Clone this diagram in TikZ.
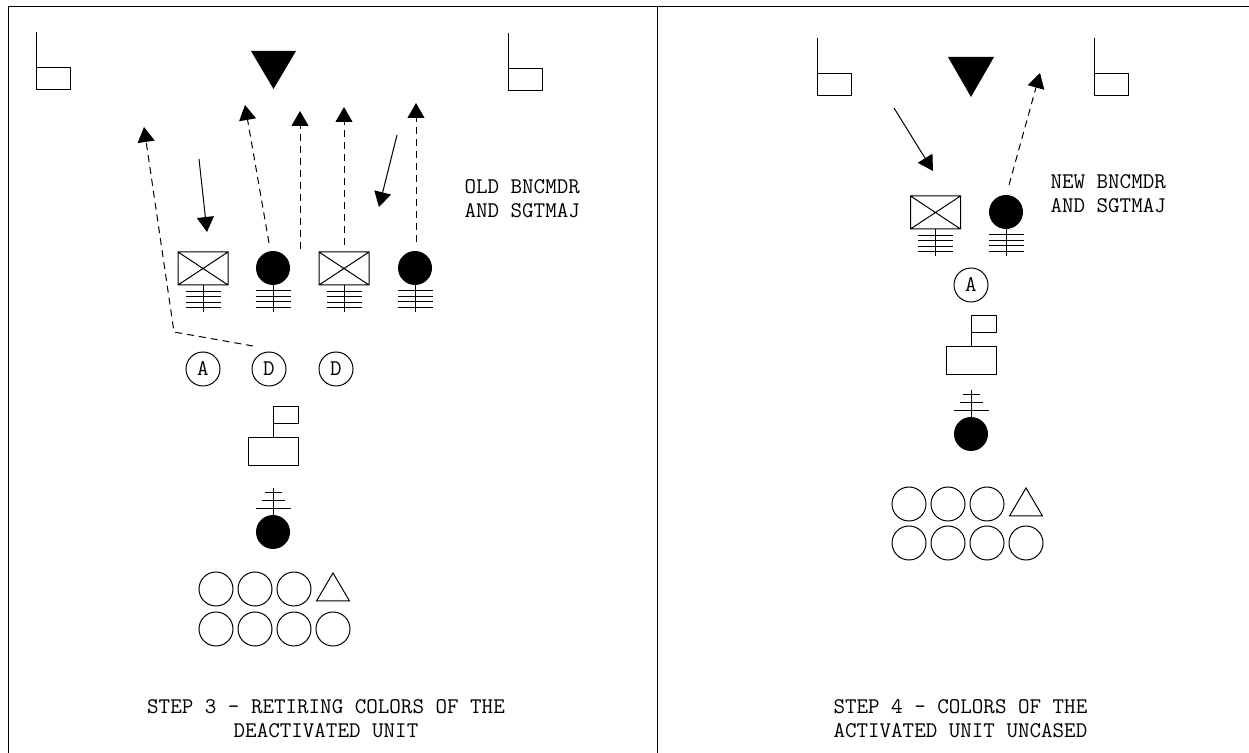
\documentclass[tikz,border=0pt]{standalone}
\usetikzlibrary{arrows.meta}
\newcommand{\txtfont}{\ttfamily\fontsize{11.2}{12}\selectfont}
\tikzset{>={Triangle[length=7.5pt,width=8.5pt]}}
\tikzset{
  guidon/.pic={
    \draw (0,0) -- (0,58) -- (34,58) -- (34,36) -- (0,36);
  },
  staff/.pic={
    \draw (0,17) -- (0,44);
    \foreach \yy in {23,28.5,34,39.5}
      \draw (-17.5,\yy) -- (17.5,\yy);
  },
  cased/.pic={
    \draw (-25,-16.5) rectangle (25,16.5)
          (-25,-16.5) -- (25,16.5) (-25,16.5) -- (25,-16.5);
    \pic {staff};
  },
  uncased/.pic={
    \fill (0,0) circle (17);
    \pic {staff};
  },
  colorstand/.pic={
    \draw (-25,0) rectangle (25,28);
    \draw (0,0) -- (0,-14) (0,-14) rectangle (25,-31);
  },
  commander/.pic={
    \fill (0,0) circle (17);
    \draw (0,-17) -- (0,-44);
    \draw (-8.5,-39) -- (8.5,-39) (-11.5,-31) -- (11.5,-31) (-17.5,-23) -- (17.5,-23);
  },
  troops/.pic={
    \tikzset{/troops/.cd,#1}
    \foreach \xx in {0,39,78}
      \draw (\xx,0) circle (17);
    \draw (117,-16) -- (133.5,12) -- (100.5,12) -- cycle;
    \foreach \xx in {0,39,78,117}
      \draw (\xx,\rowgap) circle (17);
  },
  /troops/.search also={/tikz},
  /troops/.cd,
  gap/.store in=\rowgap, gap=40,
}

\begin{document}
\begin{tikzpicture}[x=0.5pt,y=-0.5pt,line width=0.5pt,
  trail/.style={dash pattern=on 3.5pt off 2.5pt},
  sign/.style={circle,draw,minimum size=17pt,inner sep=0pt,font=\txtfont},
  note/.style={inner sep=0pt,font=\txtfont,align=left}]
  \useasboundingbox (0,0) rectangle (1249,753);
  % frame
  \draw (8,753) -- (8,7) -- (1249,7);
  \draw (657,7) -- (657,753);

  % step 3
  \pic at (36,32) {guidon};
  \pic at (508,33) {guidon};
  \fill (251,51) -- (296,51) -- (273.5,89) -- cycle;
  \pic at (203,268.5) {cased};
  \pic at (273,268) {uncased};
  \pic at (344,268.5) {cased};
  \pic at (415,268) {uncased};
  \node[sign] (a1) at (203,369) {A};
  \node[sign] (d1) at (269,369) {D};
  \node[sign] (d2) at (336,369) {D};
  \pic at (273,438) {colorstand};
  \pic at (273,532) {commander};
  \pic at (216,589) {troops};
  \node[note,anchor=base west] (old) at (464,218) {OLD BNCMDR\\AND SGTMAJ};
  \node[note,anchor=base,align=center] (cap3) at (326,738)
    {STEP 3 - RETIRING COLORS OF THE\\DEACTIVATED UNIT};

  \coordinate (r1) at (253,346); \coordinate (r2) at (174,332);
  \coordinate (r3) at (144,127);
  \draw[trail,->] (r1) -- (r2) -- (r3);
  \coordinate (m1) at (199,159); \coordinate (m2) at (207,232);
  \draw[->] (m1) -- (m2);
  \coordinate (u1) at (269,243); \coordinate (u2) at (245,105);
  \draw[trail,->] (u1) -- (u2);
  \coordinate (u3) at (300,249); \coordinate (u4) at (300,111);
  \draw[trail,->] (u3) -- (u4);
  \coordinate (u5) at (344,245); \coordinate (u6) at (344,107);
  \draw[trail,->] (u5) -- (u6);
  \coordinate (m3) at (397,135); \coordinate (m4) at (379,207);
  \draw[->] (m3) -- (m4);
  \coordinate (u7) at (416,242); \coordinate (u8) at (416,103);
  \draw[trail,->] (u7) -- (u8);

  % step 4
  \pic at (817,38) {guidon};
  \pic at (1094,38) {guidon};
  \fill (948,57) -- (994,57) -- (971,97) -- cycle;
  \pic at (935.5,212.5) {cased};
  \pic at (1006,212) {uncased};
  \node[sign] (a2) at (971,285) {A};
  \pic at (971,347) {colorstand};
  \pic at (971,434) {commander};
  \pic at (909,504) {troops={gap=39}};
  \node[note,anchor=base west] (new) at (1050,213) {NEW BNCMDR\\AND SGTMAJ};
  \node[note,anchor=base west] (cap4) at (833,738)
    {STEP 4 - COLORS OF THE\\ACTIVATED UNIT UNCASED};

  \coordinate (n1) at (894,108); \coordinate (n2) at (933,171);
  \draw[->] (n1) -- (n2);
  \coordinate (n3) at (1009,185); \coordinate (n4) at (1040,73);
  \draw[trail,->] (n3) -- (n4);
\end{tikzpicture}
\end{document}
